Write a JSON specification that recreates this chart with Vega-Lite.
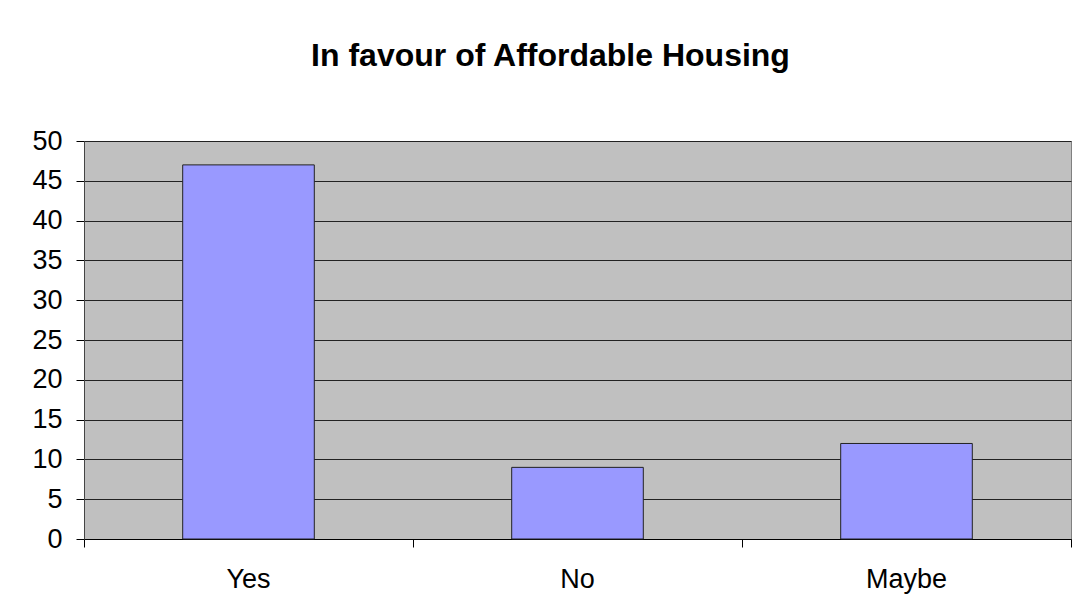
{
  "$schema": "https://vega.github.io/schema/vega-lite/v6.json",
  "width": 987,
  "height": 398,
  "autosize": "none",
  "padding": {"left": 84, "top": 141, "right": 9, "bottom": 77},
  "background": "white",
  "title": {
    "text": "In favour of Affordable Housing",
    "font": "Liberation Sans",
    "fontSize": 32,
    "fontWeight": "bold",
    "color": "black",
    "anchor": "middle",
    "frame": "group",
    "offset": 54,
    "dx": -27
  },
  "data": {
    "values": [
      {"answer": "Yes", "count": 47},
      {"answer": "No", "count": 9},
      {"answer": "Maybe", "count": 12}
    ]
  },
  "mark": {"type": "bar", "width": {"band": 0.4}, "fill": "#9999FF", "stroke": "#222222", "strokeWidth": 1},
  "encoding": {
    "x": {
      "field": "answer",
      "type": "nominal",
      "sort": ["Yes", "No", "Maybe"],
      "scale": {"paddingInner": 0, "paddingOuter": 0},
      "axis": {
        "title": null,
        "labelAngle": 0,
        "labelFont": "Liberation Sans",
        "labelFontSize": 27,
        "labelColor": "black",
        "labelPadding": 19,
        "tickSize": 8,
        "tickColor": "black",
        "domainColor": "black",
        "bandPosition": 1,
        "tickExtra": true,
        "grid": false
      }
    },
    "y": {
      "field": "count",
      "type": "quantitative",
      "scale": {"domain": [0, 50], "nice": false},
      "axis": {
        "title": null,
        "values": [0, 5, 10, 15, 20, 25, 30, 35, 40, 45, 50],
        "labelFont": "Liberation Sans",
        "labelFontSize": 27,
        "labelColor": "black",
        "labelPadding": 14,
        "tickSize": 8,
        "tickColor": "black",
        "domainColor": "#444444",
        "gridColor": "#222222",
        "gridOpacity": 1,
        "gridWidth": 1
      }
    }
  },
  "config": {
    "view": {"fill": "#C0C0C0", "stroke": "#808080", "strokeWidth": 1}
  }
}
